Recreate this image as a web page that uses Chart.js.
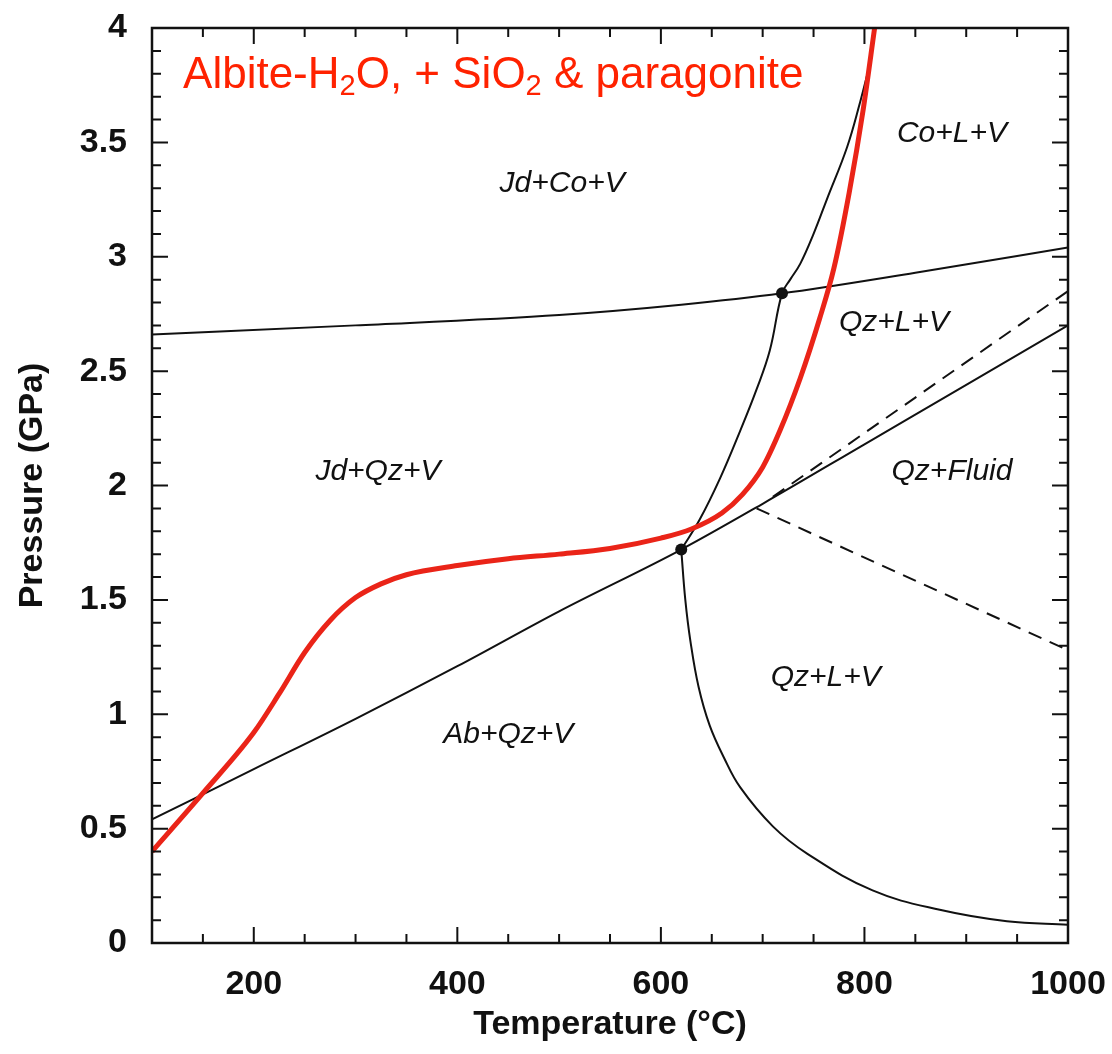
<!DOCTYPE html>
<html>
<head>
<meta charset="utf-8">
<script src="https://cdn.jsdelivr.net/npm/chart.js@4/dist/chart.umd.min.js"></script>
<style>
  html, body { margin: 0; padding: 0; background: #fff; }
  #wrap { width: 1112px; height: 1054px; }
</style>
</head>
<body>
<div id="wrap"><canvas id="diagrama"></canvas></div>
<script>
// ----- Datos: temperatura (°C) y presión (GPa) -----

// Solidus albita-H2O (+ SiO2 y paragonita), curva roja
const rojaT = [100, 150, 200, 225, 250, 275, 300, 325, 350, 400, 450, 500, 550, 600, 630, 660, 680, 700, 717, 737, 756, 770, 785, 799, 810];
const rojaP = [0.40, 0.655, 0.92, 1.09, 1.27, 1.41, 1.51, 1.57, 1.61, 1.65, 1.68, 1.70, 1.725, 1.77, 1.81, 1.88, 1.96, 2.08, 2.24, 2.47, 2.73, 2.95, 3.28, 3.65, 4.0];

// Ab + Qz = Jd (curva casi recta)
const albitaT = [100, 200, 300, 400, 500, 620, 700, 800, 900, 1000];
const albitaP = [0.54, 0.76, 0.98, 1.21, 1.45, 1.72, 1.92, 2.18, 2.44, 2.70];

// Qz = Co
const cuarzoT = [100, 300, 500, 620, 719, 850, 1000];
const cuarzoP = [2.66, 2.70, 2.745, 2.79, 2.84, 2.93, 3.04];

// Fusión de Jd, hacia arriba desde el punto invariante
const fusionAltaT = [620, 638, 658, 678, 694, 707, 719, 727, 737, 750, 763, 783, 796, 803];
const fusionAltaP = [1.72, 1.85, 2.03, 2.24, 2.42, 2.59, 2.84, 2.90, 2.97, 3.10, 3.25, 3.48, 3.68, 3.80];

// Fusión de Ab, hacia abajo
const fusionBajaT = [620, 624, 629, 637, 648, 662, 678, 710, 744, 808, 874, 940, 1000];
const fusionBajaP = [1.72, 1.50, 1.32, 1.12, 0.95, 0.81, 0.68, 0.51, 0.39, 0.23, 0.145, 0.095, 0.08];

// Curvas a trazos (fluido supercrítico)
const trazoAltoT = [710, 1000];
const trazoAltoP = [1.95, 2.85];
const trazoBajoT = [694, 1000];
const trazoBajoP = [1.90, 1.28];

// Puntos invariantes
const invarT = [620, 719];
const invarP = [1.72, 2.84];

// Etiquetas de campos
const camposTexto = ["Jd+Co+V", "Co+L+V", "Qz+L+V", "Jd+Qz+V", "Qz+Fluid", "Qz+L+V", "Ab+Qz+V"];
const camposT = [503, 886, 829, 322, 886, 762, 450];
const camposP = [3.32, 3.54, 2.71, 2.06, 2.06, 1.16, 0.91];

// Ticks de los ejes
const ticksX = [200, 400, 600, 800, 1000];
const ticksY = [0, 0.5, 1, 1.5, 2, 2.5, 3, 3.5, 4];

const puntos = (T, P) => T.map((t, i) => ({ x: t, y: P[i] }));

const NEGRO = "#111";
const ROJO = "#ea2418";

function curva(T, P, extra) {
  return Object.assign({
    data: puntos(T, P),
    borderColor: NEGRO,
    borderWidth: 2,
    pointRadius: 0,
    fill: false,
    cubicInterpolationMode: "monotone",
    order: 3
  }, extra || {});
}

// Ticks hacia dentro en los cuatro lados, marco y textos
const decorado = {
  id: "decorado",
  afterDatasetsDraw(chart) {
    const ctx = chart.ctx;
    const a = chart.chartArea;
    const sx = chart.scales.x, sy = chart.scales.y;
    ctx.save();
    ctx.strokeStyle = NEGRO;
    ctx.lineWidth = 2;
    ctx.beginPath();
    for (let t = 150; t < 1000; t += 50) {
      const x = sx.getPixelForValue(t);
      const largo = t % 200 === 0 ? 16 : 9;
      ctx.moveTo(x, a.bottom); ctx.lineTo(x, a.bottom - largo);
      ctx.moveTo(x, a.top); ctx.lineTo(x, a.top + largo);
    }
    for (let i = 1; i < 40; i++) {
      const y = sy.getPixelForValue(i / 10);
      const largo = i % 5 === 0 ? 16 : 9;
      ctx.moveTo(a.left, y); ctx.lineTo(a.left + largo, y);
      ctx.moveTo(a.right, y); ctx.lineTo(a.right - largo, y);
    }
    ctx.stroke();
    ctx.lineWidth = 2.5;
    ctx.strokeRect(a.left, a.top, a.right - a.left, a.bottom - a.top);

    // campos
    ctx.fillStyle = NEGRO;
    ctx.font = "italic 30px 'Liberation Sans', Arial, sans-serif";
    ctx.textAlign = "center";
    ctx.textBaseline = "middle";
    camposTexto.forEach((txt, i) => {
      ctx.fillText(txt, sx.getPixelForValue(camposT[i]), sy.getPixelForValue(camposP[i]));
    });

    // título en rojo con subíndices
    const partes = [["Albite-H", false], ["2", true], ["O, + SiO", false], ["2", true], [" & paragonite", false]];
    let x = sx.getPixelForValue(130.5);
    const base = sy.getPixelForValue(3.738);
    ctx.fillStyle = "#ff2200";
    ctx.textAlign = "left";
    ctx.textBaseline = "alphabetic";
    partes.forEach(([txt, sub]) => {
      ctx.font = sub ? "29px 'Liberation Sans', Arial, sans-serif" : "44px 'Liberation Sans', Arial, sans-serif";
      ctx.fillText(txt, x, sub ? base + 7 : base);
      x += ctx.measureText(txt).width;
    });
    ctx.restore();
  }
};

const fuenteEje = { family: "'Liberation Sans', Arial, sans-serif", size: 34, weight: "bold" };

new Chart(document.getElementById("diagrama"), {
  type: "line",
  data: {
    datasets: [
      { data: puntos(invarT, invarP), showLine: false, pointRadius: 6, pointBackgroundColor: NEGRO, pointBorderWidth: 0, order: 0 },
      curva(rojaT, rojaP, { borderColor: ROJO, borderWidth: 5, order: 1 }),
      curva(albitaT, albitaP),
      curva(cuarzoT, cuarzoP),
      curva(fusionAltaT, fusionAltaP, { cubicInterpolationMode: "default", tension: 0.4 }),
      curva(fusionBajaT, fusionBajaP, { cubicInterpolationMode: "default", tension: 0.4 }),
      curva(trazoAltoT, trazoAltoP, { borderDash: [14, 9], cubicInterpolationMode: "default", tension: 0 }),
      curva(trazoBajoT, trazoBajoP, { borderDash: [14, 9], cubicInterpolationMode: "default", tension: 0 })
    ]
  },
  options: {
    responsive: true,
    maintainAspectRatio: false,
    animation: false,
    layout: { padding: { top: 28, right: 44, left: 0, bottom: 0 } },
    plugins: { legend: { display: false }, tooltip: { enabled: false } },
    scales: {
      x: {
        type: "linear",
        min: 100,
        max: 1000,
        afterBuildTicks: s => { s.ticks = ticksX.map(v => ({ value: v })); },
        afterFit: s => { s.height = 111; s.paddingLeft = 0; s.paddingRight = 0; },
        grid: { display: false, drawTicks: false },
        border: { display: false },
        ticks: { color: NEGRO, font: fuenteEje, padding: 21, maxRotation: 0, callback: v => String(v) },
        title: { display: true, text: "Temperature (°C)", color: NEGRO, font: fuenteEje, padding: { top: 0, bottom: 9 } }
      },
      y: {
        type: "linear",
        min: 0,
        max: 4,
        afterBuildTicks: s => { s.ticks = ticksY.map(v => ({ value: v })); },
        afterFit: s => { s.width = 152; s.paddingTop = 0; s.paddingBottom = 0; },
        grid: { display: false, drawTicks: false },
        border: { display: false },
        ticks: { color: NEGRO, font: fuenteEje, padding: 25, callback: v => String(v) },
        title: { display: true, text: "Pressure (GPa)", color: NEGRO, font: fuenteEje, padding: { top: 12, bottom: 0 } }
      }
    }
  },
  plugins: [decorado]
});
</script>
</body>
</html>
